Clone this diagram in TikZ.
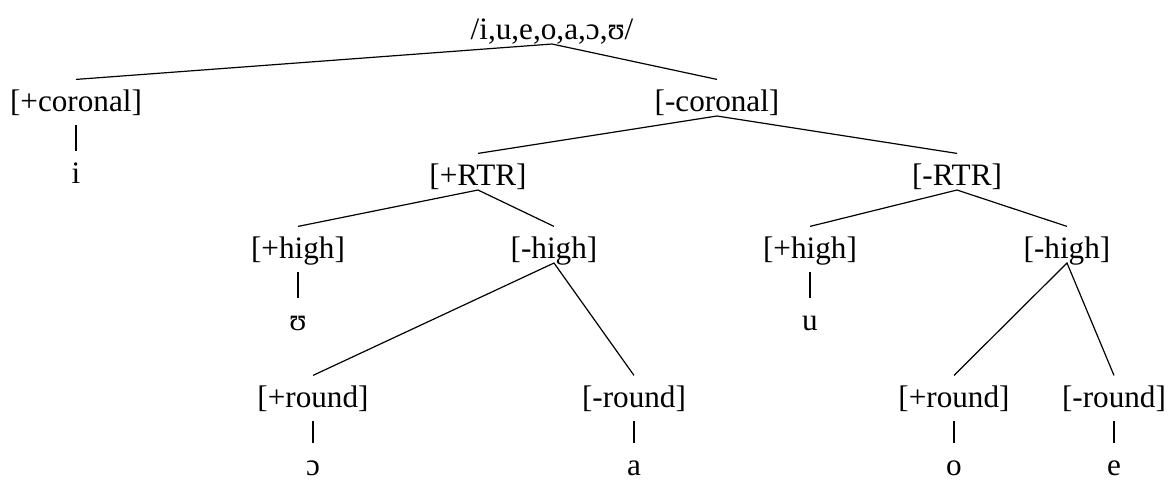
\documentclass[tikz,border=0pt]{standalone}
\usepackage{fontspec}
\setmainfont{Liberation Serif}
\tikzset{
  feat/.style={inner sep=0pt, text height=15.6pt, text depth=2.3pt, anchor=base,
    font=\fontsize{15.6}{18}\selectfont},
  branch/.style={line width=0.6pt},
  stem/.style={line width=0.6pt, shorten <=4.5pt},
}
\begin{document}
\begin{tikzpicture}[x=0.5pt,y=-0.5pt]
  \useasboundingbox (0,0) rectangle (1169,479);
  \node [feat] (root) at (552,39) {/i,u,e,o,a,ɔ,ʊ/};
  \node [feat] (pcor) at (76,111) {[+coronal]};
  \node [feat] (mcor) at (717,111) {[-coronal]};
  \node [feat] (i) at (76,183) {i};
  \node [feat] (prtr) at (478,185) {[+RTR]};
  \node [feat] (mrtr) at (957,185) {[-RTR]};
  \node [feat] (phighA) at (298,258) {[+high]};
  \node [feat] (mhighA) at (554,258) {[-high]};
  \node [feat] (phighB) at (810,258) {[+high]};
  \node [feat] (mhighB) at (1067,258) {[-high]};
  \node [feat] (upsilon) at (298,330) {ʊ};
  \node [feat] (u) at (810,330) {u};
  \node [feat] (proundA) at (313,407) {[+round]};
  \node [feat] (mroundA) at (634,407) {[-round]};
  \node [feat] (proundB) at (954,407) {[+round]};
  \node [feat] (mroundB) at (1114,407) {[-round]};
  \node [feat] (openo) at (313,475) {ɔ};
  \node [feat] (a) at (634,475) {a};
  \node [feat] (o) at (954,475) {o};
  \node [feat] (e) at (1114,475) {e};
  % branches
  \draw [branch] (pcor.north) -- (root.south) -- (mcor.north);
  \draw [branch] (prtr.north) -- (mcor.south) -- (mrtr.north);
  \draw [branch] (phighA.north) -- (prtr.south) -- (mhighA.north);
  \draw [branch] (phighB.north) -- (mrtr.south) -- (mhighB.north);
  \draw [branch] (proundA.north) -- (mhighA.south) -- (mroundA.north);
  \draw [branch] (proundB.north) -- (mhighB.south) -- (mroundB.north);
  % single daughters
  \foreach \p/\c in {pcor/i, phighA/upsilon, phighB/u, proundA/openo, mroundA/a, proundB/o, mroundB/e}
    \draw [stem] (\p.south) -- (\c.north);
\end{tikzpicture}
\end{document}
